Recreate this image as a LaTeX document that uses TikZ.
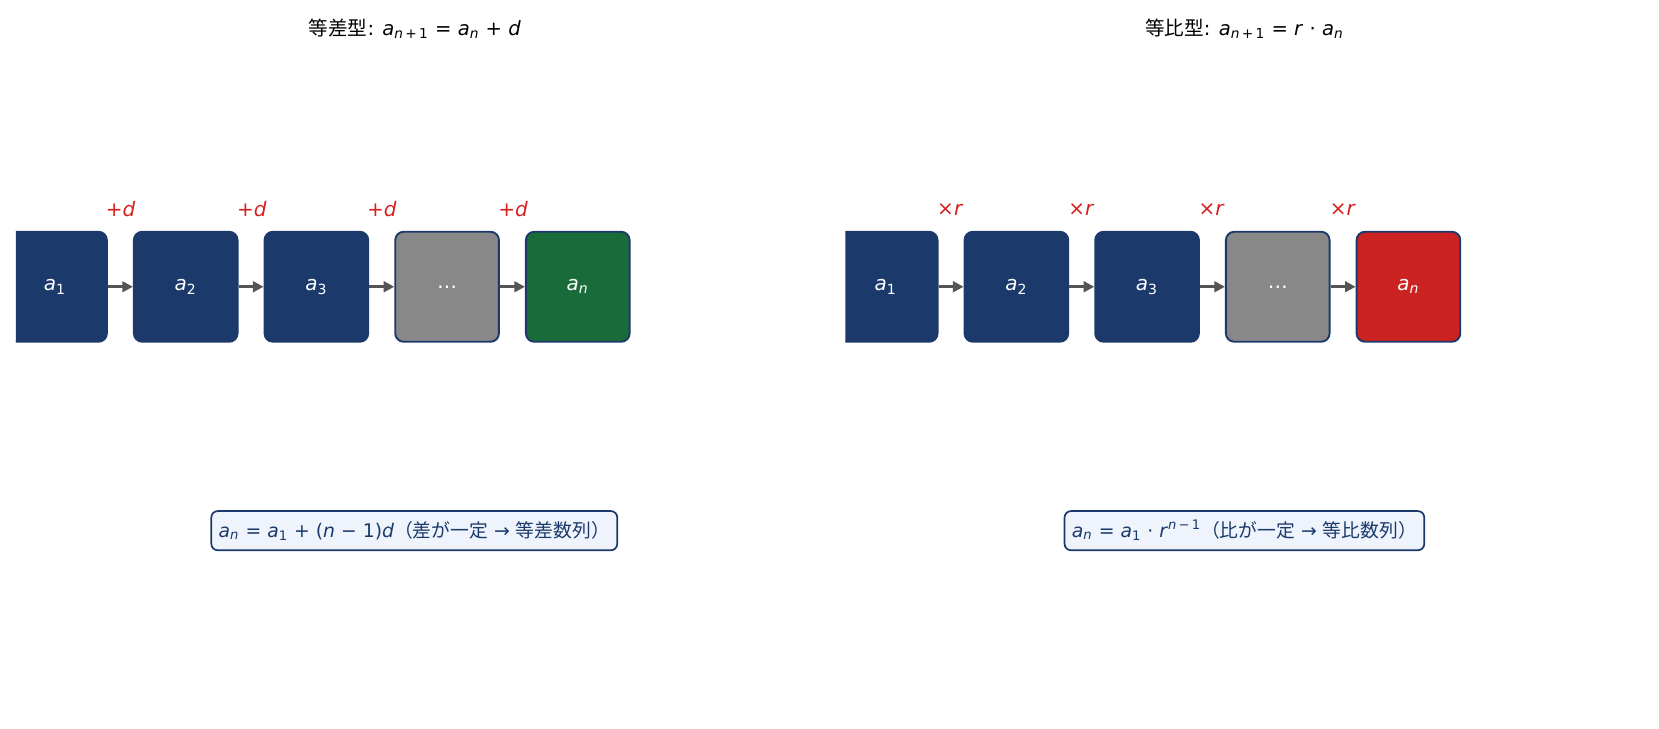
\documentclass[tikz,border=0pt]{standalone}
\usepackage{fontspec}
\setmainfont{DejaVu Sans}
\newfontfamily\cjk{Noto Sans CJK JP}
\usetikzlibrary{arrows.meta}
\definecolor{navy}{HTML}{1B3A6B}
\definecolor{boxgray}{HTML}{888888}
\definecolor{boxgreen}{HTML}{1A6B3A}
\definecolor{boxred}{HTML}{CC2222}
\definecolor{lblred}{HTML}{D62020}
\definecolor{arrgray}{HTML}{555555}
\definecolor{formfill}{HTML}{EEF3FC}
\newcommand\vi[1]{\textit{#1}}
\tikzset{
  seqbox/.style={rounded corners=4.2pt, minimum width=51.85pt, minimum height=55pt,
    inner sep=0pt, text=white, draw=navy, line width=0.95pt, fill=navy,
    font=\fontsize{10}{12}\selectfont},
  grayseq/.style={seqbox, fill=boxgray},
  greenseq/.style={seqbox, fill=boxgreen},
  redseq/.style={seqbox, fill=boxred},
  arr/.style={-{Triangle[length=5.3pt,width=5.3pt]}, line width=1.6pt, draw=arrgray},
  oplbl/.style={text=lblred, font=\fontsize{10}{12}\selectfont, inner sep=0pt},
  ttl/.style={font=\fontsize{9.8}{12}\selectfont, inner sep=0pt},
  formbox/.style={draw=navy, fill=formfill, line width=0.85pt, rounded corners=3.2pt,
    text=navy, font=\fontsize{9.4}{11}\selectfont, inner xsep=3.7pt, inner ysep=0pt,
    minimum height=19.6pt}
}
\begin{document}
\begin{tikzpicture}[x=0.5291pt,y=-0.5291pt]
\useasboundingbox (0,0) rectangle (1567.8,688.9);
% left panel
\node[ttl] (t1) at (392,27) {{\cjk 等差型}: \vi{a}\textsubscript{\vi{n}\,+\,1} = \vi{a}\textsubscript{\vi{n}} + \vi{d}};
\begin{scope}
\clip (15,0) rectangle (700,729);
\node[seqbox] (la1) at (52,271) {\vi{a}\textsubscript{1}};
\end{scope}
\node[seqbox] (la2) at (175.5,271) {\vi{a}\textsubscript{2}};
\node[seqbox] (la3) at (299,271) {\vi{a}\textsubscript{3}};
\node[grayseq] (ldots) at (422.5,271) {…};
\node[greenseq] (lan) at (546,271) {\vi{a}\textsubscript{\vi{n}}};
\draw[arr] (la1.east) -- (la2.west);
\draw[arr] (la2.east) -- (la3.west);
\draw[arr] (la3.east) -- (ldots.west);
\draw[arr] (ldots.east) -- (lan.west);
\node[oplbl] (ld1) at (114,198) {+\vi{d}};
\node[oplbl] (ld2) at (238,198) {+\vi{d}};
\node[oplbl] (ld3) at (361,198) {+\vi{d}};
\node[oplbl] (ld4) at (485,198) {+\vi{d}};
\node[formbox] (lf) at (391.5,501.5) {\vi{a}\textsubscript{\vi{n}} = \vi{a}\textsubscript{1} + (\vi{n} − 1)\vi{d}{\cjk （差が一定} → {\cjk 等差数列）}};
% right panel
\node[ttl] (t2) at (1176,27) {{\cjk 等比型}: \vi{a}\textsubscript{\vi{n}\,+\,1} = \vi{r} · \vi{a}\textsubscript{\vi{n}}};
\begin{scope}
\clip (799,0) rectangle (1659,729);
\node[seqbox] (ra1) at (837,271) {\vi{a}\textsubscript{1}};
\end{scope}
\node[seqbox] (ra2) at (960.5,271) {\vi{a}\textsubscript{2}};
\node[seqbox] (ra3) at (1084,271) {\vi{a}\textsubscript{3}};
\node[grayseq] (rdots) at (1207.5,271) {…};
\node[redseq] (ran) at (1331,271) {\vi{a}\textsubscript{\vi{n}}};
\draw[arr] (ra1.east) -- (ra2.west);
\draw[arr] (ra2.east) -- (ra3.west);
\draw[arr] (ra3.east) -- (rdots.west);
\draw[arr] (rdots.east) -- (ran.west);
\node[oplbl] (rr1) at (898,198) {×\vi{r}};
\node[oplbl] (rr2) at (1022,198) {×\vi{r}};
\node[oplbl] (rr3) at (1145,198) {×\vi{r}};
\node[oplbl] (rr4) at (1269,198) {×\vi{r}};
\node[formbox] (rf) at (1176,501.5) {\vi{a}\textsubscript{\vi{n}} = \vi{a}\textsubscript{1} · \vi{r}\textsuperscript{\vi{n}\,−\,1}{\cjk （比が一定} → {\cjk 等比数列）}};
\end{tikzpicture}
\end{document}
